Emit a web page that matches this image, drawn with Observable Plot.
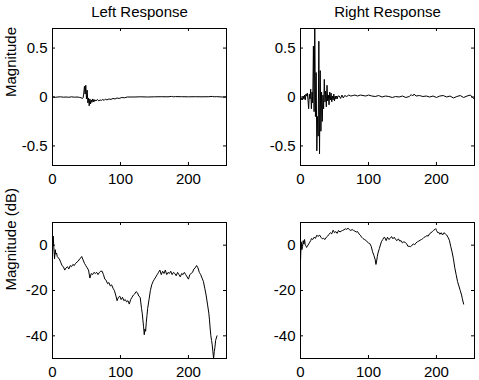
<!DOCTYPE html>
<html><head><meta charset="utf-8">
<script src="https://cdn.jsdelivr.net/npm/d3@7"></script>
<script src="https://cdn.jsdelivr.net/npm/@observablehq/plot@0.6"></script>
<style>
html,body{margin:0;padding:0;background:#fff;}
#chart{position:relative;width:479px;height:380px;overflow:hidden;background:#fff;}
.cell{position:absolute;}
</style></head><body><div id="chart"></div>
<script>
const titles = ["Left Response", "Right Response"];
const yLabels = ["Magnitude", "Magnitude (dB)"];
const xTicks = [0, 100, 200];
const xDomain = [0, 256];
const impulseTicks = [-0.5, 0, 0.5];
const impulseDomain = [-0.7, 0.7];
const dbTicks = [-40, -20, 0];
const dbDomain = [-50, 10];

// [sample, value]
const leftImpulse = [[0,0],[4,-0.003],[8,0],[12,0.002],[16,-0.002],[20,0],[24,-0.003],[28,0.002],[32,-0.002],[36,0],[40,-0.004],[42,-0.008],[44,-0.015],[45,-0.01],[46,0.04],[47,0.11],[48,0.03],[49,0.12],[50,-0.02],[51,0.07],[52,-0.06],[53,-0.01],[54,-0.09],[55,-0.02],[56,-0.07],[57,-0.03],[58,-0.055],[59,-0.02],[60,-0.05],[61,-0.025],[62,-0.045],[63,-0.03],[64,-0.04],[66,-0.025],[68,-0.04],[70,-0.03],[72,-0.035],[74,-0.025],[76,-0.035],[78,-0.02],[80,-0.03],[83,-0.02],[86,-0.025],[89,-0.015],[92,-0.02],[95,-0.01],[98,-0.015],[102,-0.005],[106,-0.008],[110,0],[120,0],[130,0.002],[140,0],[150,0.002],[160,0.003],[170,0.002],[175,0.006],[178,0.002],[181,0.004],[190,0.003],[200,0.002],[210,0.003],[220,0.002],[230,0.003],[235,0.006],[238,0.002],[241,0.004],[245,0.002],[250,0],[255,0]];

const rightImpulse = [[0,-0.02],[1,-0.03],[2,-0.01],[3,-0.03],[4,0.01],[5,-0.02],[6,0.02],[7,-0.03],[8,0.03],[9,0.01],[10,0.04],[11,-0.03],[12,-0.12],[13,0.03],[14,-0.02],[15,0.08],[16,-0.12],[17,0.05],[18,-0.06],[19,0.52],[20,-0.15],[21,0.75],[22,-0.2],[23,0.25],[24,-0.55],[25,-0.2],[26,-0.4],[27,0.57],[28,-0.58],[29,0.27],[30,-0.35],[31,0.05],[32,-0.25],[33,0.02],[34,-0.12],[35,0.18],[36,-0.05],[37,0.06],[38,-0.1],[39,0.12],[40,-0.04],[41,0.02],[42,-0.08],[43,0.05],[44,-0.03],[45,0.04],[46,-0.05],[47,0.01],[48,-0.03],[49,0.03],[50,-0.04],[51,0.01],[52,-0.02],[53,0.01],[54,-0.02],[55,0.01],[57,0.01],[59,-0.015],[61,0.02],[63,-0.01],[65,0.015],[68,0.005],[71,0.02],[74,0.01],[77,0.015],[80,0.02],[84,0.01],[88,0.02],[92,0.015],[96,0.01],[100,0.02],[105,0.01],[110,0.005],[115,0.015],[120,0],[125,0.01],[130,0.005],[135,-0.005],[140,0.005],[145,0],[150,0.01],[155,-0.005],[160,0.005],[163,0.025],[165,0.01],[167,0.03],[170,0.01],[175,0.015],[180,0.005],[185,0.01],[190,0],[195,0.01],[200,-0.005],[205,0.01],[210,0.015],[215,0],[220,0.01],[225,-0.01],[230,0.005],[235,0.015],[240,-0.005],[245,0.01],[250,0.02],[253,-0.005],[256,-0.02]];

const leftDb = [[0,-3],[1,4],[2,-1],[3,-6],[4,-2],[5,-4],[6,-3.5],[7,-5],[8,-5.5],[10,-6],[12,-7.5],[14,-9],[16,-9.5],[18,-11],[20,-10],[22,-9.5],[24,-10.5],[26,-9],[28,-9.5],[30,-8.5],[32,-9],[34,-8],[36,-7.5],[38,-7],[40,-6],[42,-5.5],[43,-5],[45,-6.5],[47,-8],[49,-9],[51,-10],[53,-11],[55,-14.5],[57,-12.5],[59,-13],[61,-12],[63,-12.5],[65,-12],[67,-13],[69,-12],[71,-11.5],[73,-11.5],[75,-13],[77,-15],[79,-15.5],[81,-17],[83,-16.5],[85,-18],[87,-17.5],[89,-19],[91,-20],[93,-22],[95,-24.5],[97,-23],[99,-22.5],[101,-24],[103,-23],[105,-24.5],[107,-24],[109,-25],[111,-24.5],[113,-26],[115,-24],[117,-23],[119,-22],[121,-21.5],[123,-20.5],[125,-21],[127,-22.5],[129,-23],[131,-28],[132,-30],[133,-33],[134,-36],[135,-39.5],[136,-37],[137,-38],[138,-34],[139,-31],[140,-28],[142,-24],[144,-20],[146,-17.5],[148,-16],[150,-15],[152,-14],[154,-13],[156,-12],[158,-11],[160,-13],[162,-11.5],[164,-12.5],[166,-11],[168,-13],[170,-12],[172,-12.5],[174,-11.5],[176,-13],[178,-12],[180,-12.5],[182,-13.5],[184,-12],[186,-13],[188,-14],[190,-12.5],[192,-13],[194,-12],[196,-13],[198,-14],[200,-15],[202,-13],[204,-12.5],[206,-12],[208,-10.5],[210,-10],[212,-9],[214,-10],[216,-12],[218,-13],[220,-14.5],[222,-16],[224,-19],[226,-22],[228,-26],[230,-30],[231,-33],[232,-37],[233,-40],[234,-42],[235,-44],[236,-47],[237,-50],[238,-47],[239,-45],[240,-42],[241,-41],[242,-40]];

const rightDb = [[0,-7],[1,1.5],[2,-2],[3,-0.7],[4,2],[5,0.5],[6,2.5],[7,0],[8,-0.3],[9,-1],[10,-0.5],[12,0.5],[13,1],[15,2],[16,2.9],[18,2.5],[20,3.5],[22,3],[24,4.4],[26,3.8],[28,4.5],[30,3.5],[32,2.8],[34,3],[36,2.5],[38,3.5],[40,4],[42,4.8],[44,5.5],[46,5],[48,6.6],[50,5.5],[52,6],[54,5.2],[56,6.5],[58,5.8],[60,6.2],[62,6.5],[64,6.8],[66,7.2],[68,7],[70,7.5],[72,6.8],[74,6.5],[76,6.9],[78,6.5],[80,6.2],[82,5.8],[84,6],[86,5],[88,4.4],[90,3.5],[92,2.9],[94,2.5],[96,2.2],[98,1.5],[100,1],[102,0.7],[104,-0.5],[106,-2.9],[108,-4.5],[110,-6.5],[111,-8.5],[112,-7],[113,-5],[114,-3.5],[116,-1.5],[118,0.5],[119,1.5],[121,2.5],[123,3.5],[124,3.4],[126,2],[128,3.5],[130,2.5],[132,3],[134,3.8],[136,2.8],[138,3.5],[140,2.5],[142,2],[144,2.8],[146,1.8],[148,2],[150,1],[152,1.5],[154,1.2],[156,0.7],[158,-0.5],[160,-0.5],[162,-0.7],[164,0],[166,0.5],[168,0.2],[170,1],[172,1.5],[174,1.8],[176,2.2],[178,2.5],[180,2.9],[182,3.5],[184,3.8],[186,4.2],[188,4],[190,5.1],[192,5.5],[194,6],[196,6.6],[198,7],[199,7.3],[200,6.5],[202,5.5],[203,5.8],[205,4.8],[207,5.5],[209,4.5],[211,5.5],[213,5],[215,4.5],[217,3.5],[219,2.2],[221,-0.5],[223,-3],[225,-6],[227,-10],[229,-13],[231,-16],[233,-18],[235,-20],[237,-22],[238,-23.5],[240,-26]];

const FONT = "'Liberation Sans', Arial, Helvetica, sans-serif";

function panel(o) {
  const innerW = o.width - o.ml - o.mr;
  const innerH = o.height - o.mt - o.mb;
  const marks = [
    Plot.line(o.data, {x: d => d[0], y: d => d[1], stroke: "#000", strokeWidth: 1, clip: true}),
    Plot.frame({stroke: "#000", strokeWidth: 1}),
    Plot.tickX(xTicks, {x: d => d, insetTop: innerH - 3, stroke: "#000"}),
    Plot.tickX(xTicks, {x: d => d, insetBottom: innerH - 3, stroke: "#000"}),
    Plot.tickY(o.yTicks, {y: d => d, insetRight: innerW - 3, stroke: "#000"}),
    Plot.tickY(o.yTicks, {y: d => d, insetLeft: innerW - 3, stroke: "#000"}),
    Plot.axisX({ticks: xTicks, tickSize: 0, tickPadding: 8, tickFormat: d => String(d), label: null}),
    Plot.axisY({ticks: o.yTicks, tickSize: 0, tickPadding: 5, tickFormat: d => String(d), label: null})
  ];
  if (o.title) marks.push(Plot.text([o.title], {text: d => d, frameAnchor: "top", dy: -12, lineAnchor: "bottom", fill: "#000"}));
  if (o.ylabel) marks.push(Plot.text([o.ylabel], {text: d => d, frameAnchor: "left", dx: -(o.ml - 11), rotate: -90, fill: "#000"}));
  const svg = Plot.plot({
    width: o.width, height: o.height,
    marginLeft: o.ml, marginRight: o.mr, marginTop: o.mt, marginBottom: o.mb,
    x: {domain: xDomain},
    y: {domain: o.yDomain},
    style: {fontSize: "15px", fontFamily: FONT, color: "#000", background: "transparent", overflow: "visible"},
    marks
  });
  const div = document.createElement("div");
  div.className = "cell";
  div.style.left = o.left + "px";
  div.style.top = o.top + "px";
  div.appendChild(svg);
  document.getElementById("chart").appendChild(div);
}

panel({data: leftImpulse, yDomain: impulseDomain, yTicks: impulseTicks, title: titles[0], ylabel: yLabels[0],
  left: 0, top: 0, width: 240, height: 190, ml: 52, mr: 14, mt: 28, mb: 25});
panel({data: rightImpulse, yDomain: impulseDomain, yTicks: impulseTicks, title: titles[1],
  left: 240, top: 0, width: 239, height: 190, ml: 60, mr: 5, mt: 28, mb: 25});
panel({data: leftDb, yDomain: dbDomain, yTicks: dbTicks, ylabel: yLabels[1],
  left: 0, top: 190, width: 240, height: 190, ml: 52, mr: 14, mt: 32, mb: 22});
panel({data: rightDb, yDomain: dbDomain, yTicks: dbTicks,
  left: 240, top: 190, width: 239, height: 190, ml: 60, mr: 5, mt: 32, mb: 22});
</script></body></html>
